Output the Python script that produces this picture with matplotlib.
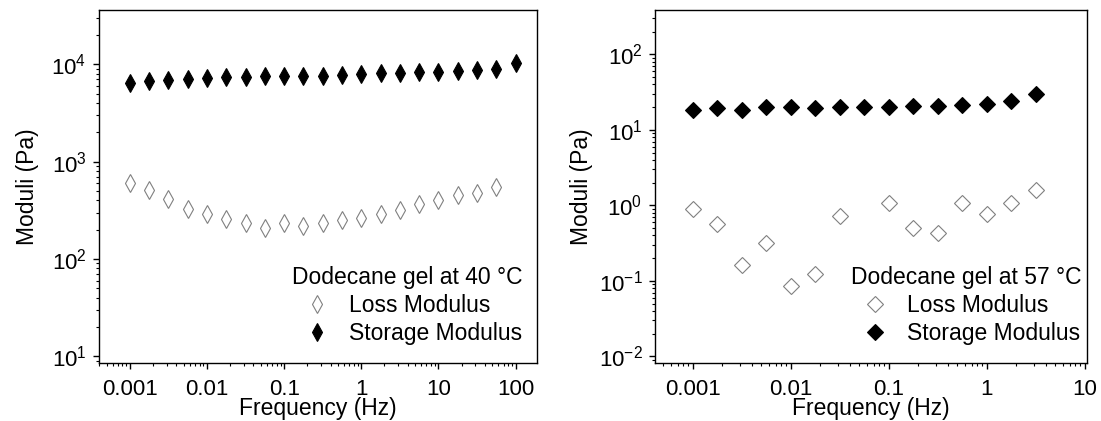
#!/usr/bin/env python3
# Dynamic moduli of dodecane gel at 40 °C and 57 °C (log-log frequency sweeps)

import matplotlib
matplotlib.use("Agg")
import matplotlib.pyplot as plt
from matplotlib.ticker import LogLocator, NullFormatter

plt.rcParams["font.family"] = ["Liberation Sans", "DejaVu Sans"]
plt.rcParams["mathtext.fontset"] = "custom"
plt.rcParams["mathtext.rm"] = "Liberation Sans"
plt.rcParams["mathtext.it"] = "Liberation Sans"

# ── 40 °C sweep ──────────────────────────────────────────────────────────────
freq_40 = [0.001, 0.00178, 0.00316, 0.00562, 0.01, 0.0178, 0.0316, 0.0562,
           0.1, 0.178, 0.316, 0.562, 1, 1.78, 3.16, 5.62, 10, 17.8, 31.6,
           56.2, 100]
storage_40 = [6380, 6790, 6900, 7060, 7290, 7340, 7460, 7590, 7590, 7640,
              7640, 7770, 7960, 8080, 8210, 8280, 8410, 8610, 8810, 8950,
              10240]
loss_freq_40 = freq_40[:-1]
loss_40 = [597, 509, 412, 330, 293, 256, 237, 206, 237, 219, 237, 250, 264,
           293, 322, 363, 402, 453, 471, 543]

# ── 57 °C sweep ──────────────────────────────────────────────────────────────
freq_57 = [0.001, 0.00178, 0.00316, 0.00562, 0.01, 0.0178, 0.0316, 0.0562,
           0.1, 0.178, 0.316, 0.562, 1, 1.78, 3.16]
storage_57 = [18.2, 19.6, 18.6, 19.8, 19.8, 19.2, 20.0, 20.2, 20.2, 20.8,
              20.8, 21.2, 21.9, 24.0, 29.4]
# no loss point was reported at 0.0562 Hz
loss_freq_57 = [0.001, 0.00178, 0.00316, 0.00562, 0.01, 0.0178, 0.0316,
                0.1, 0.178, 0.316, 0.562, 1, 1.78, 3.16]
loss_57 = [0.885, 0.571, 0.162, 0.313, 0.086, 0.123, 0.722, 1.06, 0.495,
           0.425, 1.06, 0.776, 1.08, 1.60]

FS = 16.5
TICK_FS = 16
GREY = "#808080"
W, H = 1101, 421


def style_axis(ax, xlim, ylim, xticks, xticklabels, ylabelpad):
    ax.set_xscale("log")
    ax.set_yscale("log")
    ax.set_xlim(*xlim)
    ax.set_ylim(*ylim)
    ax.set_xticks(xticks)
    ax.set_xticklabels(xticklabels)
    ax.xaxis.set_minor_locator(LogLocator(base=10, subs=range(2, 10), numticks=50))
    ax.yaxis.set_minor_locator(LogLocator(base=10, subs=range(2, 10), numticks=50))
    ax.xaxis.set_minor_formatter(NullFormatter())
    ax.yaxis.set_minor_formatter(NullFormatter())
    ax.tick_params(which="major", direction="out", length=4, width=1,
                   labelsize=TICK_FS, top=False, right=False)
    ax.tick_params(axis="x", which="major", pad=7.5)
    ax.tick_params(axis="y", which="major", pad=5)
    ax.tick_params(which="minor", direction="out", length=2.2, width=0.8,
                   top=False, right=False)
    for sp in ax.spines.values():
        sp.set_linewidth(1)
    ax.set_xlabel("Frequency (Hz)", fontsize=FS, labelpad=-2.5)
    ax.set_ylabel("Moduli (Pa)", fontsize=FS, labelpad=ylabelpad)


fig = plt.figure(figsize=(W / 100, H / 100), dpi=100)
ax1 = fig.add_axes([99 / W, 58 / H, 437.5 / W, 353 / H])
ax2 = fig.add_axes([655 / W, 58 / H, 431.5 / W, 353 / H])

# left panel: thin diamonds
ax1.plot(loss_freq_40, loss_40, linestyle="none", marker="d", markersize=9,
         markerfacecolor="white", markeredgecolor=GREY, markeredgewidth=0.8,
         label="Loss Modulus")
ax1.plot(freq_40, storage_40, linestyle="none", marker="d", markersize=9,
         markerfacecolor="black", markeredgecolor="black", markeredgewidth=0.8,
         label="Storage Modulus")
style_axis(ax1, (0.000398, 187), (8.53, 36200),
           [0.001, 0.01, 0.1, 1, 10, 100],
           ["0.001", "0.01", "0.1", "1", "10", "100"], ylabelpad=9)
ax1.legend(title="Dodecane gel at 40 °C", loc="lower right",
           bbox_to_anchor=(0.99, 0.025), frameon=False, fontsize=FS,
           title_fontsize=FS, handletextpad=0.4, labelspacing=0.22,
           borderaxespad=0.2, borderpad=0.2)

# right panel: regular diamonds
ax2.plot(loss_freq_57, loss_57, linestyle="none", marker="D", markersize=8.5,
         markerfacecolor="white", markeredgecolor=GREY, markeredgewidth=0.8,
         label="Loss Modulus")
ax2.plot(freq_57, storage_57, linestyle="none", marker="D", markersize=8.5,
         markerfacecolor="black", markeredgecolor="black", markeredgewidth=0.8,
         label="Storage Modulus")
style_axis(ax2, (0.00041, 10.4), (0.00815, 387),
           [0.001, 0.01, 0.1, 1, 10],
           ["0.001", "0.01", "0.1", "1", "10"], ylabelpad=4)
ax2.legend(title="Dodecane gel at 57 °C", loc="lower right",
           bbox_to_anchor=(1.01, 0.025), frameon=False, fontsize=FS,
           title_fontsize=FS, handletextpad=0.4, labelspacing=0.22,
           borderaxespad=0.2, borderpad=0.2)

fig.savefig("out.png", dpi=100)
